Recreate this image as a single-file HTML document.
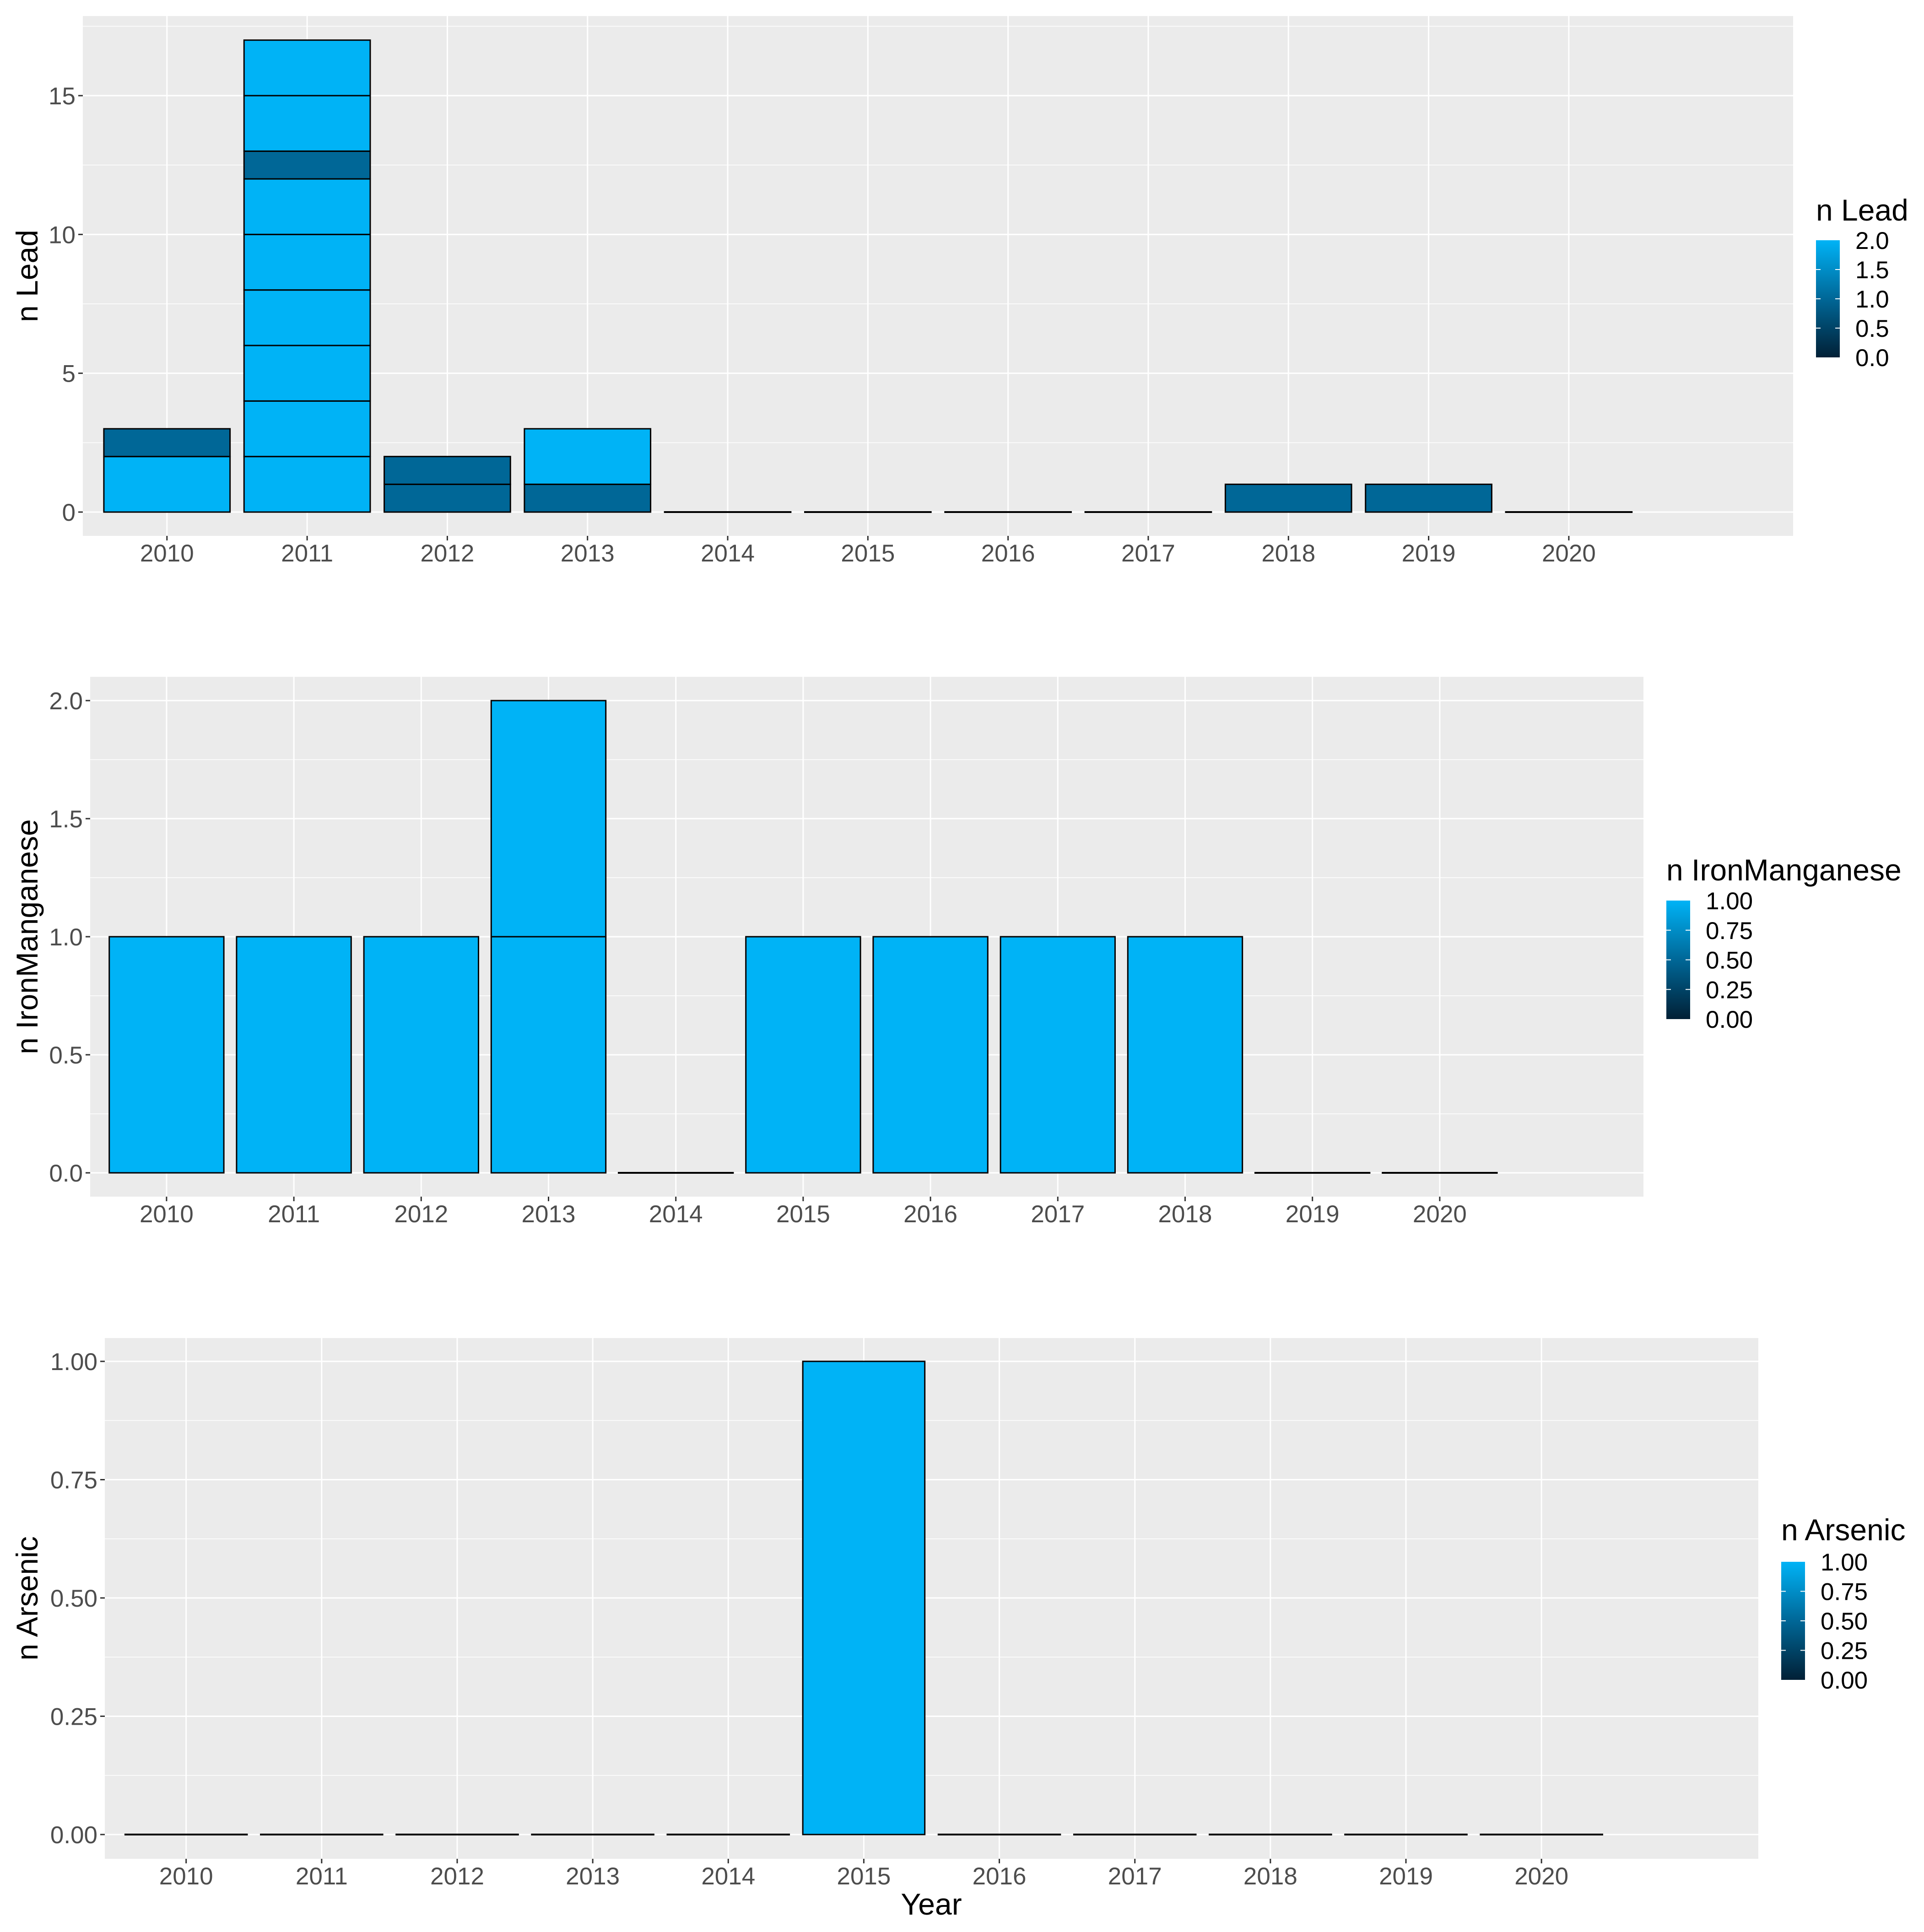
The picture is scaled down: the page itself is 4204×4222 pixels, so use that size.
<!DOCTYPE html>
<html><head><meta charset="utf-8"><style>
html,body{margin:0;padding:0;background:#fff;}
svg{display:block;font-family:"Liberation Sans",Arial,sans-serif;}
</style></head><body>
<svg id="chart" width="4204" height="4222" viewBox="0 0 4204 4222" xmlns="http://www.w3.org/2000/svg">
<defs>
<linearGradient id="grad" x1="0" y1="1" x2="0" y2="0">
<stop offset="0" stop-color="#012036"/>
<stop offset="0.5" stop-color="#006797"/>
<stop offset="1" stop-color="#00b3f6"/>
</linearGradient>
</defs>
</svg>
<script>
const NS="http://www.w3.org/2000/svg";
const svg=document.getElementById('chart');
const years=["2010","2011","2012","2013","2014","2015","2016","2017","2018","2019","2020"];
const leadSegments=[[2,1],[2,2,2,2,2,2,1,2,2],[1,1],[1,2],[0],[0],[0],[0],[1],[1],[0]];
const ironSegments=[[1],[1],[1],[1,1],[0],[1],[1],[1],[1],[0],[0]];
const arsenicSegments=[[0],[0],[0],[0],[0],[1],[0],[0],[0],[0],[0]];
const leadTicks=[0,5,10,15];
const ironTicks=[0,0.5,1,1.5,2];
const ironTickLabels=["0.0","0.5","1.0","1.5","2.0"];
const arsenicTicks=[0,0.25,0.5,0.75,1];
const arsenicTickLabels=["0.00","0.25","0.50","0.75","1.00"];
const leadLegend=["0.0","0.5","1.0","1.5","2.0"];
const ironLegend=["0.00","0.25","0.50","0.75","1.00"];

function el(tag,attrs,parent){const e=document.createElementNS(NS,tag);for(const k in attrs)e.setAttribute(k,attrs[k]);(parent||svg).appendChild(e);return e;}
function lerp(a,b,t){return a+(b-a)*t;}
function colorFor(t){
  const c0=[1,32,54],c1=[0,103,151],c2=[0,179,246];
  let a,b,u; if(t<=0.5){a=c0;b=c1;u=t/0.5;}else{a=c1;b=c2;u=(t-0.5)/0.5;}
  return `rgb(${Math.round(lerp(a[0],b[0],u))},${Math.round(lerp(a[1],b[1],u))},${Math.round(lerp(a[2],b[2],u))})`;
}

function panel(cfg){
  const g=el('g',{});
  
  
  const L=cfg.left,R=cfg.right,T=cfg.top,B=cfg.bottom;
  const step=(R-L)/12.2;
  const xc=i=>L+step*(0.6+i);
  const y=v=>cfg.y0+(cfg.y1-cfg.y0)*(v-cfg.vmin0)/(cfg.vmax1-cfg.vmin0);
  const bg=el('rect',{x:L,y:T,width:R-L,height:B-T,fill:'#ebebeb'},g);
  
  
  cfg.minor.forEach(v=>{const yy=y(v);if(yy>T&&yy<B)el('line',{x1:L,x2:R,y1:yy,y2:yy,stroke:'#fff','stroke-width':1.5},g);});
  cfg.ticks.forEach(v=>{el('line',{x1:L,x2:R,y1:y(v),y2:y(v),stroke:'#fff','stroke-width':3},g);});
  years.forEach((yr,i)=>{el('line',{x1:xc(i),x2:xc(i),y1:T,y2:B,stroke:'#fff','stroke-width':3},g);});
  cfg.data.forEach((segs,i)=>{
    let cum=0;const w=step*0.9;
    segs.forEach((s,k)=>{
      const y0=y(cum),y1=y(cum+s);
      if(s===0){
        const ln=el('line',{x1:xc(i)-w/2-1.5,x2:xc(i)+w/2+1.5,y1:y0,y2:y0,stroke:'#000','stroke-width':4},g);
        
        
      } else {
        const r=el('rect',{x:xc(i)-w/2,y:Math.min(y0,y1),width:w,height:Math.abs(y0-y1),fill:colorFor(s/cfg.legMax),stroke:'#000','stroke-width':3},g);
        
        
      }
      cum+=s;
    });
  });
  cfg.ticks.forEach((v,k)=>{
    el('line',{x1:L-10,x2:L,y1:y(v),y2:y(v),stroke:'#333','stroke-width':3},g);
    const t=el('text',{x:L-16,y:y(v)+19,'text-anchor':'end','font-size':53,fill:'#4d4d4d'},g);
    t.textContent=cfg.tickLabels[k];
    
    
  });
  years.forEach((yr,i)=>{
    el('line',{x1:xc(i),x2:xc(i),y1:B,y2:B+10,stroke:'#333','stroke-width':3},g);
    const t=el('text',{x:xc(i),y:B+56,'text-anchor':'middle','font-size':53,fill:'#4d4d4d'},g);
    t.textContent=yr;
    
    
  });
  const cy=(T+B)/2;
  const yt=el('text',{x:cfg.titleX,y:cy,'text-anchor':'middle','font-size':66,fill:'#000',transform:`rotate(-90 ${cfg.titleX} ${cy})`},g);
  yt.textContent=cfg.title;
  
  
  const lg=el('g',{},g);
  
  
  const lt=el('text',{x:cfg.legX,y:cfg.legTitleY,'font-size':66,fill:'#000'},lg);
  lt.textContent=cfg.title;
  
  
  const bw=52,bt=cfg.legBarTop,bb=cfg.legBarBottom;
  const bar=el('rect',{x:cfg.legX,y:bt,width:bw,height:bb-bt,fill:'url(#grad)'},lg);
  
  
  cfg.legLabels.forEach((lab,k)=>{
    const yy=bb-(bb-bt)*k/(cfg.legLabels.length-1);
    if(k>0&&k<cfg.legLabels.length-1){
      el('line',{x1:cfg.legX,x2:cfg.legX+10,y1:yy,y2:yy,stroke:'#fff','stroke-width':2},lg);
      el('line',{x1:cfg.legX+bw-10,x2:cfg.legX+bw,y1:yy,y2:yy,stroke:'#fff','stroke-width':2},lg);
    }
    const t=el('text',{x:cfg.legX+bw+34,y:yy+19,'font-size':53,fill:'#000'},lg);
    t.textContent=lab;
    
    
  });
}

panel({name:'lead',left:181,right:3918,top:35,bottom:1171,y0:1119,y1:209,vmin0:0,vmax1:15,
  ticks:leadTicks,tickLabels:leadTicks.map(String),minor:[2.5,7.5,12.5,17.5],data:leadSegments,legMax:2,
  title:'n Lead',titleX:82,legX:3968,legTitleY:482,legBarTop:525,legBarBottom:781,legLabels:leadLegend});
panel({name:'ironmanganese',left:197,right:3591,top:1479,bottom:2615,y0:2563,y1:1531,vmin0:0,vmax1:2,
  ticks:ironTicks,tickLabels:ironTickLabels,minor:[0.25,0.75,1.25,1.75],data:ironSegments,legMax:1,
  title:'n IronManganese',titleX:82,legX:3641,legTitleY:1924,legBarTop:1968,legBarBottom:2227,legLabels:ironLegend});
panel({name:'arsenic',left:229,right:3842,top:2924,bottom:4062,y0:4009,y1:2975,vmin0:0,vmax1:1,
  ticks:arsenicTicks,tickLabels:arsenicTickLabels,minor:[0.125,0.375,0.625,0.875],data:arsenicSegments,legMax:1,
  title:'n Arsenic',titleX:82,legX:3892,legTitleY:3366,legBarTop:3413,legBarBottom:3671,legLabels:ironLegend});

const xt=el('text',{x:2035,y:4184,'text-anchor':'middle','font-size':66,fill:'#000'});
xt.textContent='Year';


</script>
</body></html>
